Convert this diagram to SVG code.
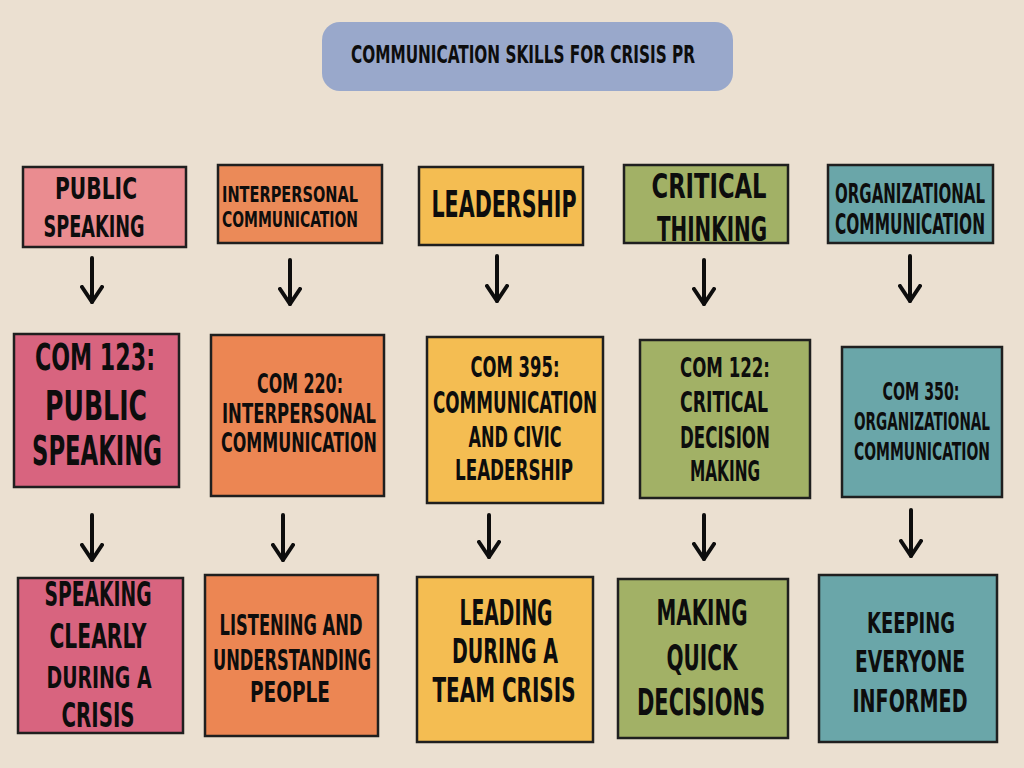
<svg xmlns="http://www.w3.org/2000/svg" width="1024" height="768" viewBox="0 0 1024 768">
<defs>
<style>
.bg{fill:#EBE0D1}
.box{stroke:#1f1f1f;stroke-width:2.5}
.pk1{fill:#EA8C90}.pk{fill:#D8647F}
.or1{fill:#EB8A58}.or{fill:#EC8653}
.ye{fill:#F4BD52}
.gr{fill:#A2B166}
.te{fill:#6AA6A9}
text{font-family:"Liberation Sans Narrow","DejaVu Sans Condensed","Liberation Sans",sans-serif;font-weight:bold;fill:#0d0d0d;text-anchor:middle}
.arrow{stroke:#0d0d0d;stroke-width:4;stroke-linecap:round;fill:none}
</style>
<marker id="head" viewBox="-2 -2 20 24" markerWidth="20" markerHeight="24" refX="15" refY="10" orient="auto" markerUnits="userSpaceOnUse">
<path d="M0,0 L15,10 L0,20" fill="none" stroke="#0d0d0d" stroke-width="4" stroke-linecap="round" stroke-linejoin="round"/>
</marker>
</defs>
<rect class="bg" x="0" y="0" width="1024" height="768"/>

<g id="title">
<rect x="322" y="22" width="411" height="69" rx="18" fill="#99A8CB"/>
<text x="523" y="63" font-size="24" textLength="344" lengthAdjust="spacingAndGlyphs">COMMUNICATION SKILLS FOR CRISIS PR</text>
</g>

<g id="skill-public-speaking">
<rect class="box pk1" x="23" y="167" width="163" height="80"/>
<text x="96" y="199" font-size="30" textLength="82" lengthAdjust="spacingAndGlyphs">PUBLIC</text>
<text x="94" y="237" font-size="31" textLength="101" lengthAdjust="spacingAndGlyphs">SPEAKING</text>
</g>
<g id="skill-interpersonal">
<rect class="box or1" x="218" y="165" width="164" height="78"/>
<text x="290" y="202" font-size="22" textLength="136" lengthAdjust="spacingAndGlyphs">INTERPERSONAL</text>
<text x="290" y="227" font-size="22" textLength="136" lengthAdjust="spacingAndGlyphs">COMMUNICATION</text>
</g>
<g id="skill-leadership">
<rect class="box ye" x="419" y="167" width="164" height="78"/>
<text x="504" y="217" font-size="37" textLength="145" lengthAdjust="spacingAndGlyphs">LEADERSHIP</text>
</g>
<g id="skill-critical-thinking">
<rect class="box gr" x="624" y="165" width="164" height="78"/>
<text x="709" y="198" font-size="34" textLength="115" lengthAdjust="spacingAndGlyphs">CRITICAL</text>
<text x="712" y="241" font-size="34" textLength="110" lengthAdjust="spacingAndGlyphs">THINKING</text>
</g>
<g id="skill-organizational">
<rect class="box te" x="828" y="165" width="165" height="78"/>
<text x="910" y="203" font-size="27" textLength="150" lengthAdjust="spacingAndGlyphs">ORGANIZATIONAL</text>
<text x="910" y="234" font-size="28" textLength="150" lengthAdjust="spacingAndGlyphs">COMMUNICATION</text>
</g>

<g id="course-com123">
<rect class="box pk" x="14" y="334" width="165" height="153"/>
<text x="95" y="370" font-size="37" textLength="120" lengthAdjust="spacingAndGlyphs">COM 123:</text>
<text x="96" y="420" font-size="41" textLength="102" lengthAdjust="spacingAndGlyphs">PUBLIC</text>
<text x="97" y="465" font-size="41" textLength="130" lengthAdjust="spacingAndGlyphs">SPEAKING</text>
</g>
<g id="course-com220">
<rect class="box or" x="211" y="335" width="173" height="161"/>
<text x="300" y="393" font-size="27" textLength="86" lengthAdjust="spacingAndGlyphs">COM 220:</text>
<text x="299" y="423" font-size="27" textLength="154" lengthAdjust="spacingAndGlyphs">INTERPERSONAL</text>
<text x="299" y="452" font-size="27" textLength="156" lengthAdjust="spacingAndGlyphs">COMMUNICATION</text>
</g>
<g id="course-com395">
<rect class="box ye" x="427" y="337" width="176" height="166"/>
<text x="515" y="377" font-size="29" textLength="89" lengthAdjust="spacingAndGlyphs">COM 395:</text>
<text x="515" y="413" font-size="31" textLength="164" lengthAdjust="spacingAndGlyphs">COMMUNICATION</text>
<text x="515" y="447" font-size="28" textLength="93" lengthAdjust="spacingAndGlyphs">AND CIVIC</text>
<text x="514" y="480" font-size="29" textLength="118" lengthAdjust="spacingAndGlyphs">LEADERSHIP</text>
</g>
<g id="course-com122">
<rect class="box gr" x="640" y="340" width="170" height="158"/>
<text x="725" y="377" font-size="27" textLength="90" lengthAdjust="spacingAndGlyphs">COM 122:</text>
<text x="724" y="412" font-size="28" textLength="88" lengthAdjust="spacingAndGlyphs">CRITICAL</text>
<text x="725" y="448" font-size="30" textLength="90" lengthAdjust="spacingAndGlyphs">DECISION</text>
<text x="725" y="481" font-size="29" textLength="70" lengthAdjust="spacingAndGlyphs">MAKING</text>
</g>
<g id="course-com350">
<rect class="box te" x="842" y="347" width="160" height="150"/>
<text x="921" y="400" font-size="24" textLength="77" lengthAdjust="spacingAndGlyphs">COM 350:</text>
<text x="922" y="430" font-size="24" textLength="136" lengthAdjust="spacingAndGlyphs">ORGANIZATIONAL</text>
<text x="922" y="460" font-size="25" textLength="136" lengthAdjust="spacingAndGlyphs">COMMUNICATION</text>
</g>

<g id="outcome-speaking">
<rect class="box pk" x="18" y="578" width="165" height="155"/>
<text x="98" y="606" font-size="33" textLength="107" lengthAdjust="spacingAndGlyphs">SPEAKING</text>
<text x="98" y="648" font-size="33" textLength="97" lengthAdjust="spacingAndGlyphs">CLEARLY</text>
<text x="99" y="688" font-size="30" textLength="105" lengthAdjust="spacingAndGlyphs">DURING A</text>
<text x="98" y="727" font-size="33" textLength="73" lengthAdjust="spacingAndGlyphs">CRISIS</text>
</g>
<g id="outcome-listening">
<rect class="box or" x="205" y="575" width="173" height="161"/>
<text x="291" y="635" font-size="29" textLength="143" lengthAdjust="spacingAndGlyphs">LISTENING AND</text>
<text x="292" y="670" font-size="29" textLength="158" lengthAdjust="spacingAndGlyphs">UNDERSTANDING</text>
<text x="290" y="702" font-size="28" textLength="80" lengthAdjust="spacingAndGlyphs">PEOPLE</text>
</g>
<g id="outcome-leading">
<rect class="box ye" x="417" y="577" width="176" height="165"/>
<text x="506" y="625" font-size="35" textLength="93" lengthAdjust="spacingAndGlyphs">LEADING</text>
<text x="505" y="663" font-size="34" textLength="106" lengthAdjust="spacingAndGlyphs">DURING A</text>
<text x="504" y="702" font-size="34" textLength="143" lengthAdjust="spacingAndGlyphs">TEAM CRISIS</text>
</g>
<g id="outcome-decisions">
<rect class="box gr" x="618" y="579" width="170" height="159"/>
<text x="702" y="625" font-size="36" textLength="91" lengthAdjust="spacingAndGlyphs">MAKING</text>
<text x="702" y="670" font-size="36" textLength="71" lengthAdjust="spacingAndGlyphs">QUICK</text>
<text x="701" y="715" font-size="38" textLength="128" lengthAdjust="spacingAndGlyphs">DECISIONS</text>
</g>
<g id="outcome-informed">
<rect class="box te" x="819" y="575" width="178" height="167"/>
<text x="911" y="633" font-size="29" textLength="88" lengthAdjust="spacingAndGlyphs">KEEPING</text>
<text x="910" y="672" font-size="30" textLength="110" lengthAdjust="spacingAndGlyphs">EVERYONE</text>
<text x="910" y="712" font-size="32" textLength="115" lengthAdjust="spacingAndGlyphs">INFORMED</text>
</g>

<g id="connectors">
<path class="arrow" marker-end="url(#head)" d="M92,258 L92,302"/>
<path class="arrow" marker-end="url(#head)" d="M290,260 L290,304"/>
<path class="arrow" marker-end="url(#head)" d="M497,256 L497,301"/>
<path class="arrow" marker-end="url(#head)" d="M704,260 L704,304"/>
<path class="arrow" marker-end="url(#head)" d="M910,256 L910,301"/>
<path class="arrow" marker-end="url(#head)" d="M92,515 L92,560"/>
<path class="arrow" marker-end="url(#head)" d="M283,515 L283,560"/>
<path class="arrow" marker-end="url(#head)" d="M489,515 L489,557"/>
<path class="arrow" marker-end="url(#head)" d="M704,515 L704,559"/>
<path class="arrow" marker-end="url(#head)" d="M911,510 L911,556"/>
</g>
</svg>
